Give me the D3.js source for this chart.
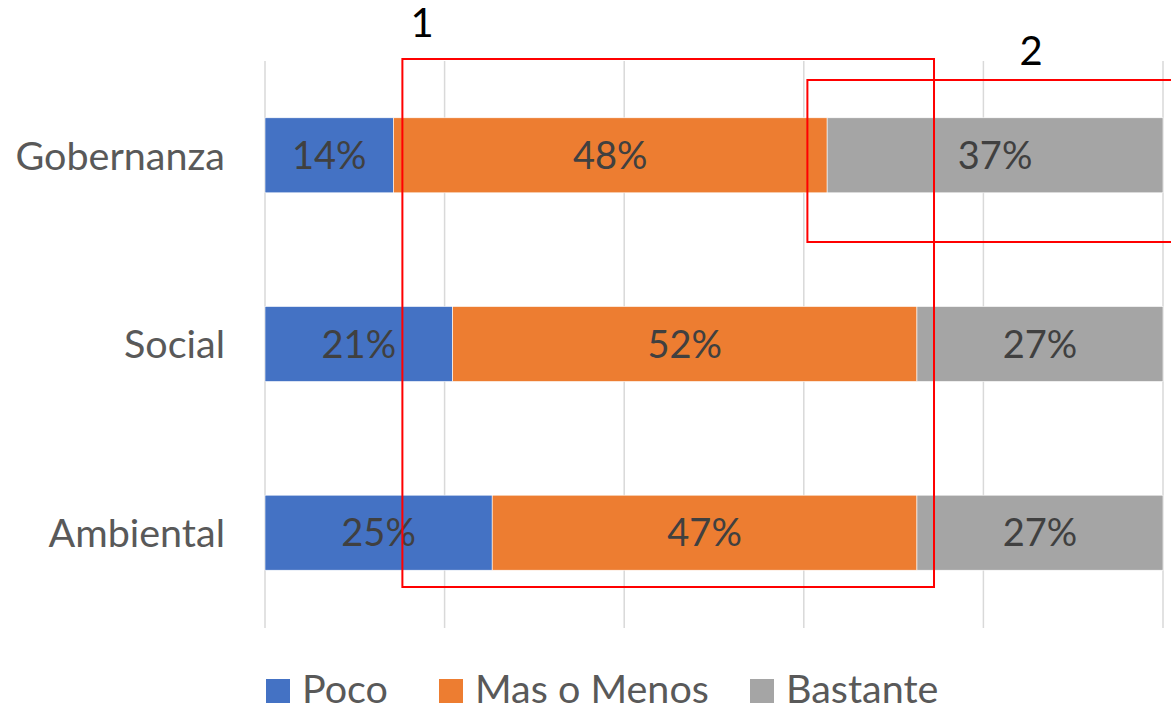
<!DOCTYPE html>
<html>
<head>
<meta charset="utf-8">
<script src="https://cdn.jsdelivr.net/npm/d3@7"></script>
<style>
  html, body { margin: 0; padding: 0; background: #ffffff; }
  svg { display: block; }
  text { font-family: Lato, "Open Sans", sans-serif; }
</style>
</head>
<body>
<svg id="chart" width="1171" height="708"></svg>
<script>
// ---- data ----
const categories = ["Gobernanza", "Social", "Ambiental"];
const seriesNames = ["Poco", "Mas o Menos", "Bastante"];
const poco      = [0.143, 0.209, 0.253];
const masOMenos = [0.483, 0.517, 0.473];
const bastante  = [0.374, 0.274, 0.274];
const xTicks = [0, 0.2, 0.4, 0.6, 0.8, 1.0];
// annotation boxes (in data units: x share)
const boxLabels = ["1", "2"];
const boxX0 = [0.153, 0.604];
const boxX1 = [0.745, 1.02];

// ---- styles ----
const colors = ["#4472c4", "#ed7d31", "#a5a5a5"];
const svg = d3.select("#chart");

const x = d3.scaleLinear().domain([0, 1]).range([265, 1163]);
const y = d3.scaleBand().domain(categories).range([61, 627]).paddingInner(0.6025).paddingOuter(0.301);

// gridlines
svg.append("g").selectAll("line").data(xTicks).join("line")
  .attr("x1", d => x(d)).attr("x2", d => x(d))
  .attr("y1", 61).attr("y2", 628)
  .attr("stroke", "#d9d9d9").attr("stroke-width", 1.5);

// stack
const rows = categories.map((c, i) => ({ cat: c, "Poco": poco[i], "Mas o Menos": masOMenos[i], "Bastante": bastante[i] }));
const stacked = d3.stack().keys(seriesNames)(rows);

const layers = svg.append("g").selectAll("g").data(stacked).join("g")
  .attr("fill", (d, i) => colors[i]);

layers.selectAll("rect").data(d => d).join("rect")
  .attr("x", d => x(d[0]))
  .attr("y", d => y(d.data.cat))
  .attr("width", d => x(d[1]) - x(d[0]))
  .attr("height", y.bandwidth())
  .attr("stroke", "#ffffff").attr("stroke-width", 0.6);

// value labels
layers.selectAll("text").data(d => d).join("text")
  .attr("x", d => (x(d[0]) + x(d[1])) / 2)
  .attr("y", d => y(d.data.cat) + y.bandwidth() / 2)
  .attr("dy", "0.36em")
  .attr("text-anchor", "middle")
  .attr("fill", "#404040")
  .attr("font-size", 38)
  .text(d => Math.round((d[1] - d[0]) * 100) + "%");

// category labels
svg.append("g").selectAll("text").data(categories).join("text")
  .attr("x", 225)
  .attr("y", d => y(d) + y.bandwidth() / 2)
  .attr("dy", "0.36em")
  .attr("text-anchor", "end")
  .attr("fill", "#595959")
  .attr("font-size", 39.5)
  .text(d => d);

// legend
const legendX = [266, 439, 750];
const lg = svg.append("g").selectAll("g").data(seriesNames).join("g")
  .attr("transform", (d, i) => `translate(${legendX[i]},679)`);
lg.append("rect").attr("width", 24).attr("height", 24).attr("fill", (d, i) => colors[i]);
lg.append("text").attr("x", 36).attr("y", 24)
  .attr("fill", "#595959").attr("font-size", 39.5).text(d => d);

// annotation boxes
const boxY0 = [59, 80];
const boxY1 = [587, 242];
const ann = svg.append("g");
ann.selectAll("rect").data(boxLabels).join("rect")
  .attr("x", (d, i) => x(boxX0[i]))
  .attr("y", (d, i) => boxY0[i])
  .attr("width", (d, i) => x(boxX1[i]) - x(boxX0[i]))
  .attr("height", (d, i) => boxY1[i] - boxY0[i])
  .attr("fill", "none").attr("stroke", "#ff0000").attr("stroke-width", 2);
const labelX = [422, 1031];
const labelY = [37, 65];
ann.selectAll("text").data(boxLabels).join("text")
  .attr("x", (d, i) => labelX[i]).attr("y", (d, i) => labelY[i])
  .attr("text-anchor", "middle").attr("fill", "#000000").attr("font-size", 40)
  .text(d => d);
</script>
</body>
</html>
